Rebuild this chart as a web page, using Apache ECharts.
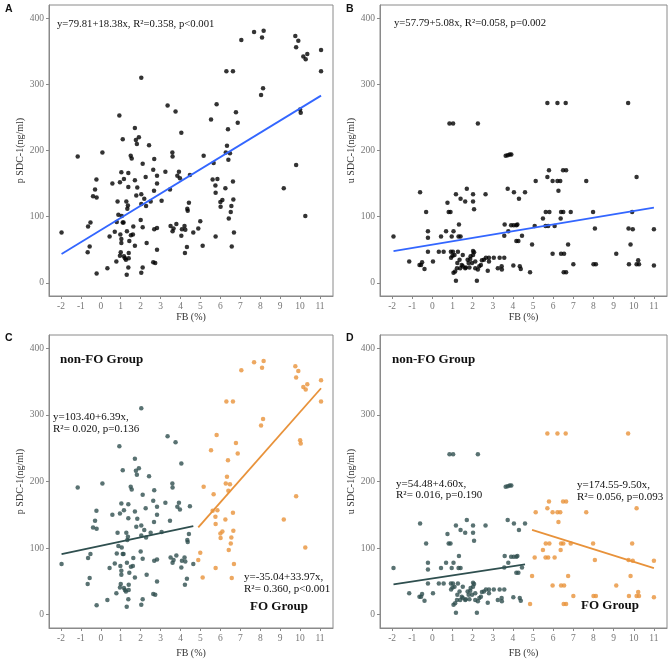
<!DOCTYPE html>
<html>
<head>
<meta charset="utf-8">
<script src="https://cdn.jsdelivr.net/npm/echarts@6/dist/echarts.min.js"></script>
<style>
  html, body { margin: 0; padding: 0; background: #fff; }
  #chart { width: 669px; height: 664px; }
</style>
</head>
<body>
<div id="chart"></div>
<script>
// FB (%) vs plasma SDC-1 (ng/ml)
const pointsP = [
  [-1.97, 76], [-1.16, 191], [0.08, 197], [-0.64, 85], [-0.52, 91], [-0.66, 46], [-0.56, 55],
  [-0.39, 131], [-0.29, 141], [-0.22, 156], [-0.21, 129], [-0.21, 14], [0.33, 22], [0.44, 70],
  [0.58, 150], [0.7, 77], [0.78, 32], [0.8, 92], [0.84, 123], [0.88, 103], [0.93, 253],
  [0.96, 152], [0.96, 41], [1.0, 46], [0.98, 73], [1.03, 167], [1.03, 66], [1.03, 60],
  [1.05, 101], [1.1, 217], [1.1, 91], [1.14, 91], [1.16, 157], [1.16, 40], [1.21, 37],
  [1.26, 35], [1.28, 123], [1.3, 12], [1.31, 78], [1.33, 112], [1.36, 117], [1.38, 166],
  [1.38, 145], [1.38, 23], [1.4, 45], [1.43, 63], [1.4, 37], [1.5, 192], [1.55, 188],
  [1.51, 72], [1.61, 73], [1.63, 85], [1.71, 234], [1.71, 155], [1.71, 56], [1.76, 216],
  [1.81, 210], [1.78, 132], [1.83, 144], [1.91, 220], [2.0, 95], [2.03, 310], [2.03, 15],
  [2.03, 134], [2.03, 119], [2.1, 180], [2.1, 84], [2.1, 23], [2.18, 127], [2.25, 160],
  [2.27, 116], [2.3, 60], [2.42, 208], [2.5, 123], [2.63, 171], [2.63, 31], [2.73, 30],
  [2.68, 187], [2.67, 139], [2.68, 81], [2.82, 83], [2.82, 162], [2.82, 150], [2.82, 50],
  [3.05, 124], [3.24, 168], [3.35, 268], [3.47, 141], [3.5, 86], [3.59, 197], [3.6, 191],
  [3.6, 78], [3.65, 82], [3.75, 259], [3.79, 89], [3.84, 162], [3.92, 168], [3.97, 158],
  [4.04, 71], [4.04, 227], [4.07, 81], [4.2, 86], [4.24, 80], [4.22, 45], [4.32, 54],
  [4.34, 112], [4.36, 109], [4.42, 121], [4.47, 163], [4.64, 76],
  [4.89, 82], [4.99, 93], [5.11, 56], [5.16, 192], [5.53, 247], [5.66, 181], [5.61, 156],
  [5.75, 147], [5.76, 136], [5.76, 70], [5.81, 270], [5.85, 157], [6.0, 122], [6.01, 115],
  [6.1, 125], [6.25, 143], [6.27, 197], [6.3, 320], [6.33, 207], [6.38, 232], [6.4, 186],
  [6.42, 97], [6.48, 196], [6.52, 107], [6.55, 116], [6.57, 55], [6.63, 320], [6.63, 153],
  [6.65, 126], [6.68, 76], [6.78, 258], [6.87, 242], [7.05, 367], [7.69, 379], [8.04, 284],
  [8.09, 371], [8.14, 294], [8.17, 381], [9.18, 143], [9.76, 373], [9.8, 178], [9.8, 356],
  [9.91, 366], [10.0, 262], [10.03, 257], [10.16, 342], [10.26, 101], [10.28, 338],
  [10.36, 346], [11.05, 352], [11.05, 320]
];

// FB (%) vs urine SDC-1 (ng/ml)
const pointsU = [
  [-1.93, 70], [-1.15, 32], [-0.61, 137], [-0.64, 27], [-0.51, 31], [-0.56, 27], [-0.39, 21],
  [-0.31, 107], [-0.22, 78], [-0.22, 68], [-0.22, 47], [0.03, 32], [0.32, 47], [0.43, 70],
  [0.56, 47], [0.68, 78], [0.75, 121], [0.81, 107], [0.9, 107], [0.96, 70], [0.85, 241],
  [1.03, 241], [0.92, 47], [1.02, 47], [0.93, 38], [1.0, 41], [1.05, 78], [1.05, 15],
  [1.13, 17], [1.17, 134], [1.17, 3], [1.27, 47], [1.32, 88], [1.3, 70], [1.4, 70],
  [1.4, 127], [1.35, 35], [1.38, 22], [1.46, 27], [1.51, 42], [1.63, 123], [1.71, 142],
  [1.66, 23], [1.75, 35], [1.8, 30], [1.88, 36], [1.97, 30], [2.02, 134], [2.02, 123],
  [2.07, 111], [2.02, 48], [2.07, 46], [2.02, 42], [2.13, 22], [2.26, 20], [2.21, 3],
  [2.26, 241], [2.41, 27], [2.56, 35], [2.64, 134], [2.66, 38], [2.81, 38], [2.75, 18],
  [2.81, 32], [3.05, 38], [3.25, 22], [3.34, 38], [3.44, 25], [3.45, 20], [3.57, 38],
  [3.57, 71], [3.59, 88], [3.64, 192], [3.74, 193], [3.84, 194], [3.92, 194], [3.74, 142],
  [3.77, 78], [3.91, 87], [4.04, 87], [4.02, 26], [4.05, 137], [4.17, 87], [4.22, 88],
  [4.17, 63], [4.27, 63], [4.3, 127], [4.34, 25], [4.39, 21], [4.45, 71], [4.6, 137],
  [1.1, 42], [1.22, 22], [1.24, 30], [1.51, 25], [1.63, 22], [1.84, 23], [1.9, 40],
  [2.13, 32], [2.33, 25], [2.46, 34],
  [4.85, 16], [4.95, 58], [5.08, 86], [5.13, 154], [5.49, 97], [5.63, 107], [5.62, 86],
  [5.75, 86], [5.71, 272], [5.71, 160], [5.79, 170], [5.81, 107], [5.97, 44], [5.97, 154],
  [6.07, 86], [6.21, 272], [6.21, 154], [6.35, 154], [6.26, 139], [6.37, 97], [6.39, 107],
  [6.5, 107], [6.39, 44], [6.54, 44], [6.49, 170], [6.64, 170], [6.52, 16], [6.64, 16],
  [6.62, 272], [6.74, 58], [6.87, 107], [7.0, 28], [7.64, 154], [7.98, 107], [8.0, 28],
  [8.12, 28], [8.07, 82], [9.13, 44], [9.72, 272], [9.74, 82], [9.76, 28], [9.84, 58],
  [9.92, 107], [9.95, 81], [10.14, 160], [10.14, 28], [10.26, 28], [10.22, 34], [11.0, 81],
  [11.0, 26]
];

// fitted line ends
const lineA = [[-1.97, 43.6], [11.05, 283]];
const lineB = [[-1.93, 48], [11.0, 113.7]];
const lineCnon = [[-1.97, 90.8], [4.64, 133]];
const lineCfo = [[4.89, 131], [11.05, 340]];
const lineDnon = [[-1.93, 45.6], [4.6, 75.6]];
const lineDfo = [[4.95, 127.5], [11.0, 70]];

const xTicks = [-2, -1, 0, 1, 2, 3, 4, 5, 6, 7, 8, 9, 10, 11];
const yTicks = [0, 100, 200, 300, 400];
const foCut = 4.8;

const nonFoP = pointsP.filter(p => p[0] < foCut);
const foP = pointsP.filter(p => p[0] >= foCut);
const nonFoU = pointsU.filter(p => p[0] < foCut);
const foU = pointsU.filter(p => p[0] >= foCut);

const BLUE = '#3366FF';
const DARK = '#2F4F4F';
const ORANGE = '#E8923A';
const GREY = '#8a8a8a';
const serif = '"Liberation Serif", "DejaVu Serif", serif';

const chart = echarts.init(document.getElementById('chart'));

const grids = [
  { left: 49, top: 5, width: 284, height: 291 },
  { left: 380, top: 5, width: 287, height: 291 },
  { left: 49, top: 335, width: 284, height: 293 },
  { left: 380, top: 335, width: 287, height: 293 }
].map(g => Object.assign({ show: true, borderColor: GREY, borderWidth: 1 }, g));

const yNames = ['p SDC-1(ng/ml)', 'u SDC-1(ng/ml)', 'p SDC-1(ng/ml)', 'u SDC-1(ng/ml)'];

const xAxes = grids.map((g, i) => ({
  type: 'value', gridIndex: i, min: -2.6, max: 11.65,
  name: 'FB (%)', nameLocation: 'middle', nameGap: i < 2 ? 15 : 20,
  nameTextStyle: { fontFamily: serif, fontSize: 10, color: '#333' },
  axisLine: { show: true, onZero: false, lineStyle: { color: GREY } },
  axisTick: { show: true, length: 3, customValues: xTicks, lineStyle: { color: GREY } },
  axisLabel: { customValues: xTicks, fontFamily: serif, fontSize: 9.5, color: '#777', margin: 5 },
  splitLine: { show: false }
}));

const yAxes = grids.map((g, i) => ({
  type: 'value', gridIndex: i, min: -20, max: 420,
  name: yNames[i], nameLocation: 'middle', nameGap: 23,
  nameTextStyle: { fontFamily: serif, fontSize: 10, color: '#333' },
  axisLine: { show: true, onZero: false, lineStyle: { color: GREY } },
  axisTick: { show: true, length: 3, customValues: yTicks, lineStyle: { color: GREY } },
  axisLabel: { customValues: yTicks, fontFamily: serif, fontSize: 9.5, color: '#777', margin: 5 },
  splitLine: { show: false }
}));

function dots (idx, data, color) {
  return {
    type: 'scatter', xAxisIndex: idx, yAxisIndex: idx, data: data,
    symbolSize: 4.5, itemStyle: { color: color }, silent: true
  };
}
function fit (idx, data, color) {
  return {
    type: 'line', xAxisIndex: idx, yAxisIndex: idx, data: data,
    symbol: 'none', lineStyle: { color: color, width: 1.8 }, silent: true, z: 3
  };
}

function txt (x, y, text, size, bold, family) {
  return {
    type: 'text', x: x, y: y, silent: true,
    style: {
      text: text, fill: '#111', verticalAlign: 'middle',
      font: (bold ? 'bold ' : '') + size + 'px ' + (family || serif)
    }
  };
}

const option = {
  backgroundColor: '#fff',
  animation: false,
  grid: grids,
  xAxis: xAxes,
  yAxis: yAxes,
  series: [
    dots(0, pointsP, '#000'), fit(0, lineA, BLUE),
    dots(1, pointsU, '#000'), fit(1, lineB, BLUE),
    dots(2, nonFoP, DARK), dots(2, foP, ORANGE), fit(2, lineCnon, DARK), fit(2, lineCfo, ORANGE),
    dots(3, nonFoU, DARK), dots(3, foU, ORANGE), fit(3, lineDnon, DARK), fit(3, lineDfo, ORANGE)
  ],
  graphic: [
    txt(5, 9, 'A', 10.5, true, 'Arial, "Liberation Sans", sans-serif'),
    txt(346, 9, 'B', 10.5, true, 'Arial, "Liberation Sans", sans-serif'),
    txt(5, 338, 'C', 10.5, true, 'Arial, "Liberation Sans", sans-serif'),
    txt(346, 338, 'D', 10.5, true, 'Arial, "Liberation Sans", sans-serif'),
    txt(57, 24, 'y=79.81+18.38x, R²=0.358, p<0.001', 10.7),
    txt(394, 23, 'y=57.79+5.08x, R²=0.058, p=0.002', 10.7),
    txt(60, 360, 'non-FO Group', 13, true),
    txt(53, 417, 'y=103.40+6.39x,', 11),
    txt(53, 429, 'R²= 0.020, p=0.136', 11),
    txt(244, 577, 'y=-35.04+33.97x,', 11),
    txt(244, 589, 'R²= 0.360, p<0.001', 11),
    txt(250, 607, 'FO Group', 13, true),
    txt(392, 360, 'non-FO Group', 13, true),
    txt(396, 484, 'y=54.48+4.60x,', 11),
    txt(396, 495, 'R²= 0.016, p=0.190', 11),
    txt(577, 485, 'y=174.55-9.50x,', 11),
    txt(577, 497, 'R²= 0.056, p=0.093', 11),
    txt(581, 606, 'FO Group', 13, true)
  ]
};

chart.setOption(option);
</script>
</body>
</html>
